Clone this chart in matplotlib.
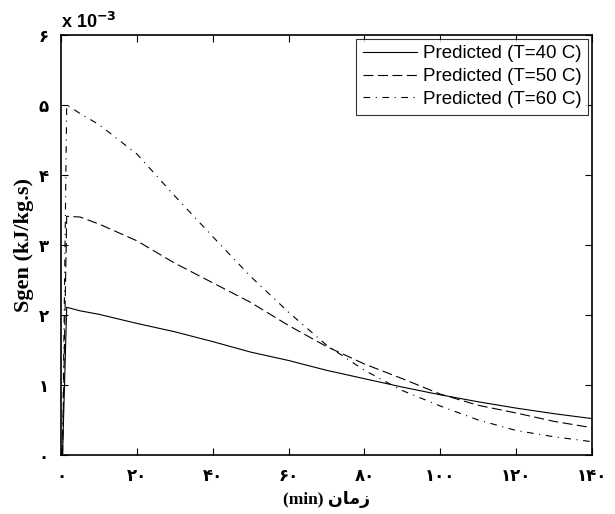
import matplotlib
matplotlib.use("Agg")
import matplotlib.pyplot as plt
from matplotlib.ticker import FuncFormatter

# time (min)
t = [0.4, 1.5, 5, 10, 20, 30, 40, 50, 60, 70, 80, 90, 100, 110, 120, 130, 140]

# Sgen (x 10^-3 kJ/kg.s)
sgen_40 = [0, 2.11, 2.06, 2.01, 1.88, 1.76, 1.62, 1.47, 1.35, 1.21, 1.09, 0.97, 0.86, 0.76, 0.67, 0.59, 0.52]
sgen_50 = [0, 3.41, 3.40, 3.30, 3.06, 2.74, 2.46, 2.18, 1.85, 1.55, 1.30, 1.09, 0.87, 0.71, 0.60, 0.48, 0.39]
sgen_60 = [0, 5.00, 4.88, 4.72, 4.30, 3.70, 3.12, 2.55, 2.04, 1.57, 1.21, 0.92, 0.70, 0.50, 0.35, 0.26, 0.19]

labels = ["Predicted (T=40 C)", "Predicted (T=50 C)", "Predicted (T=60 C)"]

PERSIAN = "۰۱۲۳۴۵۶۷۸۹"


def to_persian(v, pos):
    s = "%d" % round(v)
    return "".join(PERSIAN[int(c)] for c in s)


fig = plt.figure(figsize=(6.15, 5.14), dpi=100)
ax = fig.add_axes([0.0992, 0.1148, 0.8634, 0.8171])

ax.plot(t, sgen_40, color="black", lw=0.8, linestyle="-", label=labels[0])
ax.plot(t, sgen_50, color="black", lw=0.8, dashes=(9, 4), label=labels[1])
ax.plot(t, sgen_60, color="black", lw=0.8, dashes=(6, 5, 1, 5), label=labels[2])

ax.set_xlim(0, 140)
ax.set_ylim(0, 6)
ax.set_xticks(range(0, 141, 20))
ax.set_yticks(range(0, 7))
ax.xaxis.set_major_formatter(FuncFormatter(to_persian))
ax.yaxis.set_major_formatter(FuncFormatter(to_persian))
ax.tick_params(direction="in", top=True, right=True, length=5, width=0.8,
               labelsize=12, pad=9)
for lab in ax.get_xticklabels() + ax.get_yticklabels():
    lab.set_family(["DejaVu Sans"])
    lab.set_fontweight("bold")
for sp in ax.spines.values():
    sp.set_linewidth(1.2)

ax.text(0.0, 1.008, "x 10$^{\\mathbf{-3}}$", transform=ax.transAxes,
        fontsize=13, fontweight="bold", family="Liberation Sans",
        ha="left", va="bottom")

ax.set_ylabel("Sgen (kJ/kg.s)", fontsize=16, fontweight="bold",
              family="Liberation Serif", labelpad=3)
ax.set_xlabel("(min) " + "ﻥﺎﻣﺯ", fontsize=12.5, fontweight="bold",
              family=["Liberation Serif", "DejaVu Sans"], labelpad=4)

leg = ax.legend(loc="upper right", frameon=True, fancybox=False,
                edgecolor="black", handlelength=2.9, handletextpad=0.3,
                borderpad=0.35, labelspacing=0.3, borderaxespad=0.2,
                prop={"family": "Liberation Sans", "size": 13.5})
leg.get_frame().set_linewidth(0.8)

fig.savefig("out.png", dpi=100)
plt.close(fig)
